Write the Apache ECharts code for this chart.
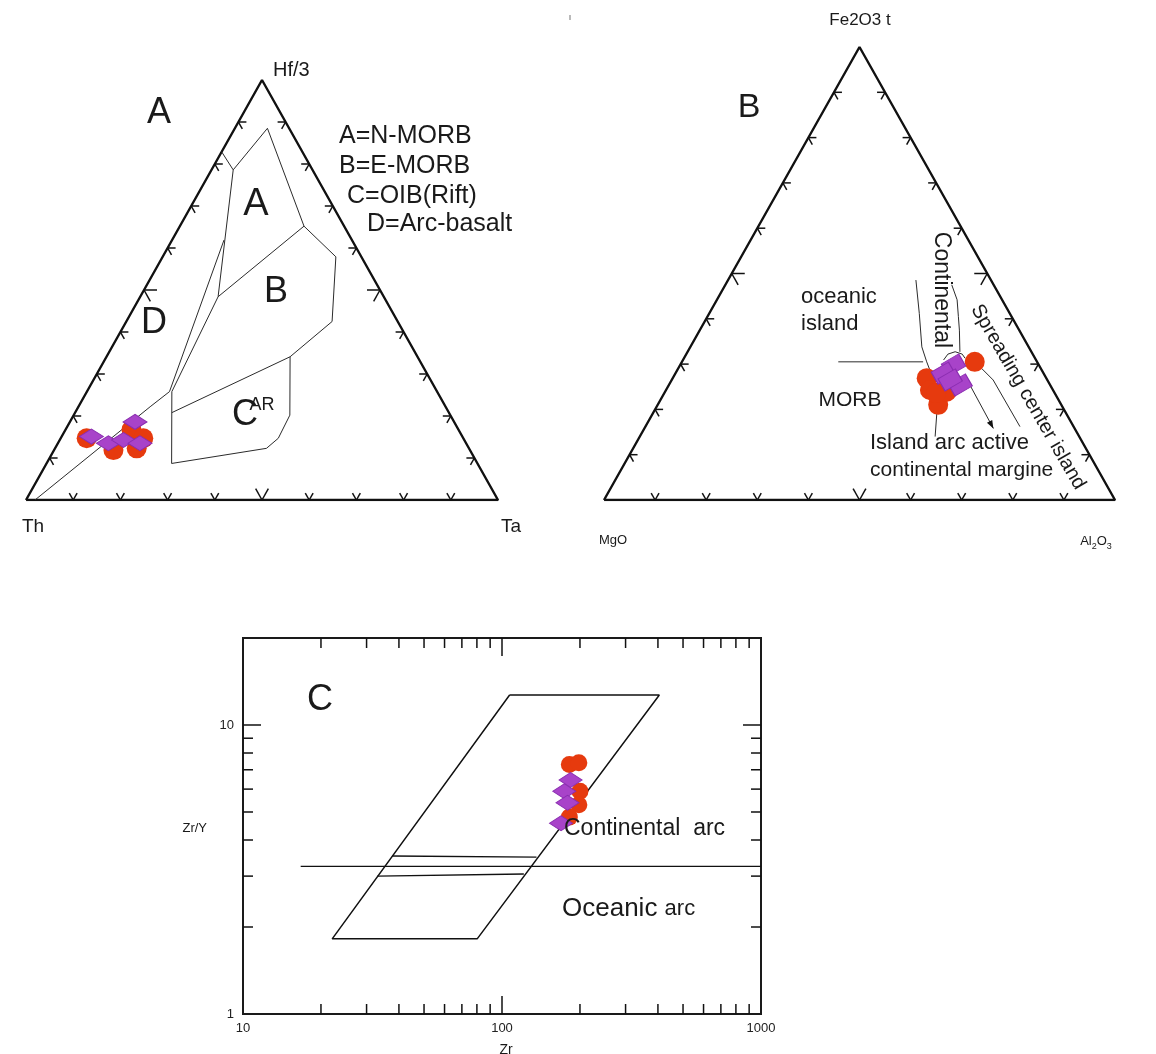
<!DOCTYPE html>
<html>
<head>
<meta charset="utf-8">
<title>Discrimination diagrams</title>
<script src="https://cdn.jsdelivr.net/npm/echarts@6.0.0/dist/echarts.min.js"></script>
<style>
html,body{margin:0;padding:0;background:#fff;}
#chart{width:1156px;height:1054px;}
</style>
</head>
<body>
<div id="chart"></div>
<script>
// ================= DATA =================
// Ternary corners in [left, top, right] order
const triCorners = [[1,0,0],[0,1,0],[0,0,1]];
const ternTicks = [0.1,0.2,0.3,0.4,0.5,0.6,0.7,0.8,0.9];

// ---- Diagram A : Th – Hf/3 – Ta, compositions [Th, Hf/3, Ta]
const aEdgeSeg   = [[0.171,0.829,0.000],[0.168,0.786,0.046]];
const aFieldA    = [[0.168,0.786,0.046],[0.046,0.885,0.069],[0.085,0.652,0.263]];
const aLeftLine  = [[0.168,0.786,0.046],[0.351,0.484,0.165],[0.562,0.258,0.180]];
const aFieldB    = [[0.351,0.484,0.165],[0.085,0.652,0.263],[0.054,0.579,0.367],[0.139,0.425,0.436],[0.270,0.341,0.389]];
const aFieldC    = [[0.562,0.258,0.180],[0.648,0.087,0.265],[0.429,0.123,0.448],[0.392,0.147,0.461],[0.340,0.202,0.458],[0.270,0.341,0.389],[0.587,0.208,0.205]];
const aFieldD    = [[0.271,0.619,0.110],[0.567,0.258,0.175],[0.626,0.222,0.152],[0.981,0.000,0.019]];
const aCircles   = [[0.798,0.147,0.055],[0.756,0.119,0.126],[0.693,0.167,0.140],[0.678,0.147,0.175],[0.704,0.123,0.173]];
const aDiamonds  = [[0.786,0.151,0.063],[0.758,0.135,0.107],[0.676,0.186,0.138],[0.722,0.143,0.135],[0.691,0.135,0.174]];

// ---- Diagram B : MgO – Fe2O3t – Al2O3, compositions [MgO, Fe2O3t, Al2O3]
const bMorbLine  = [[0.389,0.305,0.306],[0.223,0.305,0.472]];
const bContLeft  = [[0.147,0.486,0.368],[0.177,0.412,0.411],[0.209,0.338,0.453],[0.216,0.305,0.479],[0.220,0.280,0.500]];
const bContRight = [[0.082,0.475,0.443],[0.088,0.442,0.470],[0.104,0.405,0.491],[0.117,0.375,0.508],[0.140,0.327,0.533]];
const bContArc   = [[0.181,0.309,0.510],[0.166,0.322,0.512],[0.149,0.327,0.523],[0.138,0.322,0.540],[0.137,0.313,0.550]];
const bSpreading = [[0.116,0.291,0.594],[0.106,0.265,0.629],[0.105,0.162,0.733]];
const bArrow     = [[0.157,0.254,0.589],[0.159,0.158,0.683]];
const bLeader    = [[0.251,0.195,0.554],[0.282,0.140,0.578]];
const bCircles   = [[0.122,0.305,0.573],[0.234,0.269,0.497],[0.241,0.243,0.517],[0.241,0.210,0.549],[0.210,0.239,0.551],[0.232,0.236,0.532]];
const bDiamonds  = [[0.167,0.298,0.535],[0.196,0.280,0.524],[0.176,0.254,0.570],[0.190,0.265,0.545]];

// ---- Diagram C : Zr vs Zr/Y (log–log)
const zrRange    = [10, 1000];
const zryRange   = [1, 20];
const zrMajor    = [100];
const zrMinor    = [20,30,40,50,60,70,80,90,200,300,400,500,600,700,800,900];
const zryMajor   = [10];
const zryMinor   = [2,3,4,5,6,7,8,9];
const cParallelogram = [[107,12.7],[405,12.7],[80.2,1.82],[22.1,1.82],[107,12.7]];
const cDivide    = [[16.7,3.24],[1000,3.24]];
const cUpperBand = [[37.6,3.52],[135.9,3.49]];
const cLowerBand = [[33.0,3.00],[121.4,3.05]];
const cCircleZr  = [182, 198, 200, 198, 182];
const cCircleZrY = [7.3, 7.4, 5.9, 5.3, 4.8];
const cDiamondZr = [184, 174, 179, 169];
const cDiamondZrY= [6.45, 5.9, 5.38, 4.57];

// ================= HELPERS =================
const FONT = '"Liberation Sans", Arial, Helvetica, sans-serif';
const RED = '#E63A0E', PURPLE = '#A843C9', PURPLE_EDGE = '#8A2DB0', INK = '#111';

function toXY(c){ const s = c[0]+c[1]+c[2]; return [(c[2] + c[1]/2)/s, c[1]/s]; }

function tLine(g, pts, w, color){
  return {type:'line', xAxisIndex:g, yAxisIndex:g, data: pts.map(toXY), symbol:'none',
    silent:true, lineStyle:{width:w||1, color:color||'#2b2b2b'}, z:2};
}
function tScatter(g, pts, kind, size, rot){
  return {type:'scatter', xAxisIndex:g, yAxisIndex:g, data: pts.map(toXY), symbol: kind,
    symbolSize: size, symbolRotate: rot||0, silent:true, z: kind==='circle'?5:6,
    itemStyle: kind==='circle' ? {color:RED, opacity:1} : {color:PURPLE, borderColor:PURPLE_EDGE, borderWidth:1, opacity:1}};
}
function tTicks(g){
  const data = [];
  [1,2,3].forEach(e => ternTicks.forEach(t => data.push([e, t])));
  return {type:'custom', xAxisIndex:g, yAxisIndex:g, data, clip:false, silent:true, z:4,
    renderItem(params, api){
      const e = api.value(0), t = api.value(1);
      const L = api.coord(toXY(triCorners[0])), T = api.coord(toXY(triCorners[1])), R = api.coord(toXY(triCorners[2]));
      const edges = {1:[L,R,T], 2:[R,T,L], 3:[T,L,R]};
      const [A,B,C] = edges[e];
      const p = [A[0]+(B[0]-A[0])*t, A[1]+(B[1]-A[1])*t];
      const len = Math.abs(t-0.5) < 1e-6 ? 13 : 8;
      const u = (P,Q) => { const dx=Q[0]-P[0], dy=Q[1]-P[1], d=Math.hypot(dx,dy); return [dx/d, dy/d]; };
      const d1 = u(A,C), d2 = u(B,C);
      const st = {stroke:INK, lineWidth:1.5};
      return {type:'group', children:[
        {type:'line', shape:{x1:p[0], y1:p[1], x2:p[0]+d1[0]*len, y2:p[1]+d1[1]*len}, style:st},
        {type:'line', shape:{x1:p[0], y1:p[1], x2:p[0]+d2[0]*len, y2:p[1]+d2[1]*len}, style:st}
      ]};
    }};
}
function cLine(pts, w){
  return {type:'line', xAxisIndex:2, yAxisIndex:2, data: pts, symbol:'none', silent:true,
    lineStyle:{width:w||1.4, color:INK}, z:2};
}
function cTicks(){
  const data = [];
  zrMajor.concat(zrMinor).forEach(v => { data.push([v,1]); data.push([v,2]); });
  zryMajor.concat(zryMinor).forEach(v => { data.push([v,3]); data.push([v,4]); });
  return {type:'custom', xAxisIndex:2, yAxisIndex:2, data, clip:false, silent:true, z:4,
    renderItem(params, api){
      const v = api.value(0), side = api.value(1);
      const major = (side <= 2 ? zrMajor : zryMajor).indexOf(v) >= 0;
      const len = major ? 18 : 10;
      let p, dx = 0, dy = 0;
      if (side === 1) { p = api.coord([v, zryRange[0]]); dy = -len; }
      else if (side === 2) { p = api.coord([v, zryRange[1]]); dy = len; }
      else if (side === 3) { p = api.coord([zrRange[0], v]); dx = len; }
      else { p = api.coord([zrRange[1], v]); dx = -len; }
      return {type:'line', shape:{x1:p[0], y1:p[1], x2:p[0]+dx, y2:p[1]+dy}, style:{stroke:INK, lineWidth:1.5}};
    }};
}
function arrowHead(g, pts){
  const a = toXY(pts[pts.length-2]), b = toXY(pts[pts.length-1]);
  return {type:'custom', xAxisIndex:g, yAxisIndex:g, data:[[a[0],a[1],b[0],b[1]]], clip:false, silent:true, z:3,
    renderItem(params, api){
      const p0 = api.coord([api.value(0), api.value(1)]), p1 = api.coord([api.value(2), api.value(3)]);
      const dx = p1[0]-p0[0], dy = p1[1]-p0[1], d = Math.hypot(dx,dy), ux = dx/d, uy = dy/d;
      const L = 8, W = 3;
      const pts2 = [[p1[0], p1[1]], [p1[0]-ux*L-uy*W, p1[1]-uy*L+ux*W], [p1[0]-ux*L+uy*W, p1[1]-uy*L-ux*W]];
      return {type:'polygon', shape:{points:pts2}, style:{fill:INK}};
    }};
}
function txt(text, x, y, size, opt){
  opt = opt || {};
  return {type:'text', x, y, rotation: opt.rot || 0, silent:true, z:10,
    style:{text, fontSize:size, fontFamily:FONT, fill:opt.color||'#1a1a1a',
      align: opt.align||'center', verticalAlign:'middle', rich: opt.rich}};
}

// ================= CHART =================
const chart = echarts.init(document.getElementById('chart'), null, {renderer:'canvas'});
const hiddenAxis = g => ({gridIndex:g, type:'value', min:0, max:1, show:false});
const isPow10 = v => Math.abs(Math.log10(v) - Math.round(Math.log10(v))) < 1e-6;

const option = {
  animation:false,
  backgroundColor:'#fff',
  grid:[
    {left:26, top:80, width:472, height:420, containLabel:false, outerBoundsMode:'none'},
    {left:604, top:47, width:511, height:453, containLabel:false, outerBoundsMode:'none'},
    {left:243, top:638, width:518, height:376, containLabel:false, outerBoundsMode:'none',
     show:true, borderColor:'#1a1a1a', borderWidth:2, backgroundColor:'transparent'}
  ],
  xAxis:[hiddenAxis(0), hiddenAxis(1),
    {gridIndex:2, type:'log', logBase:10, min:zrRange[0], max:zrRange[1],
     axisLine:{show:false}, axisTick:{show:false}, splitLine:{show:false}, minorTick:{show:false},
     axisLabel:{fontSize:13, color:'#222', fontFamily:FONT, margin:8,
       formatter: v => isPow10(v) ? String(Math.round(v)) : ''}}],
  yAxis:[hiddenAxis(0), hiddenAxis(1),
    {gridIndex:2, type:'log', logBase:10, min:zryRange[0], max:zryRange[1],
     axisLine:{show:false}, axisTick:{show:false}, splitLine:{show:false}, minorTick:{show:false},
     axisLabel:{fontSize:13, color:'#222', fontFamily:FONT, margin:9,
       formatter: v => isPow10(v) ? String(Math.round(v)) : ''}}],
  series:[
    // Diagram A
    tLine(0, triCorners.concat([triCorners[0]]), 2.4, INK),
    tTicks(0),
    tLine(0, aEdgeSeg), tLine(0, aFieldA), tLine(0, aLeftLine), tLine(0, aFieldB), tLine(0, aFieldC), tLine(0, aFieldD),
    tScatter(0, aCircles, 'circle', 20),
    tScatter(0, aDiamonds, 'diamond', [24,15]),
    // Diagram B
    tLine(1, triCorners.concat([triCorners[0]]), 2.4, INK),
    tTicks(1),
    tLine(1, bMorbLine), tLine(1, bContLeft), tLine(1, bContRight), tLine(1, bContArc),
    tLine(1, bSpreading), tLine(1, bArrow), tLine(1, bLeader),
    arrowHead(1, bArrow),
    tScatter(1, bCircles, 'circle', 20),
    tScatter(1, bDiamonds, 'rect', [20,14], 30),
    // Diagram C
    cLine(cParallelogram, 1.5), cLine(cDivide, 1.2), cLine(cUpperBand, 1.4), cLine(cLowerBand, 1.4),
    cTicks(),
    {type:'scatter', xAxisIndex:2, yAxisIndex:2, symbol:'circle', symbolSize:17, silent:true, z:5,
     data: cCircleZr.map((v,i) => [v, cCircleZrY[i]]), itemStyle:{color:RED, opacity:1}},
    {type:'scatter', xAxisIndex:2, yAxisIndex:2, symbol:'diamond', symbolSize:[23,15], silent:true, z:6,
     data: cDiamondZr.map((v,i) => [v, cDiamondZrY[i]]), itemStyle:{color:PURPLE, borderColor:PURPLE_EDGE, borderWidth:1, opacity:1}}
  ],
  graphic:[
    // Diagram A texts
    txt('A', 159, 113, 36),
    txt('Hf/3', 273, 70, 20, {align:'left'}),
    txt('Th', 33, 527, 19),
    txt('Ta', 511, 527, 19),
    txt('A=N-MORB', 339, 136, 25, {align:'left'}),
    txt('B=E-MORB', 339, 166, 25, {align:'left'}),
    txt('C=OIB(Rift)', 347, 196, 25, {align:'left'}),
    txt('D=Arc-basalt', 367, 224, 25, {align:'left'}),
    txt('A', 256, 205, 38),
    txt('B', 276, 292, 36),
    txt('C', 245, 415, 36),
    txt('AR', 262, 405, 18),
    txt('D', 154, 323, 36),
    // Diagram B texts
    txt('\u0131', 570, 18, 9, {color:'#555'}),
    txt('B', 749, 108, 34),
    txt('Fe2O3 t', 860, 20, 17),
    txt('MgO', 613, 540, 13),
    txt('{n|Al}{s|2}{n|O}{s|3}', 1096, 545, 13, {rich:{
      n:{fontSize:13, fontFamily:FONT, fill:'#1a1a1a', verticalAlign:'bottom', lineHeight:13, padding:[0,0,4,0]},
      s:{fontSize:9, fontFamily:FONT, fill:'#1a1a1a', verticalAlign:'bottom', lineHeight:9}}}),
    txt('oceanic', 801, 297, 22, {align:'left'}),
    txt('island', 801, 324, 22, {align:'left'}),
    txt('MORB', 850, 400, 21),
    txt('Continental', 941, 290, 23, {rot:-Math.PI/2}),
    txt('Spreading center island', 1028, 397, 20, {rot:-Math.PI/3}),
    txt('Island arc active', 870, 443, 22, {align:'left'}),
    txt('continental margine', 870, 470, 21, {align:'left'}),
    // Diagram C texts
    txt('C', 320, 700, 36),
    txt('Continental  arc', 564, 829, 23, {align:'left'}),
    txt('{a|Oceanic} {b|arc}', 562, 909, 26, {align:'left', rich:{
      a:{fontSize:26, fontFamily:FONT, fill:'#1a1a1a'}, b:{fontSize:22, fontFamily:FONT, fill:'#1a1a1a'}}}),
    txt('Zr/Y', 207, 828, 13, {align:'right'}),
    txt('Zr', 506, 1050, 14)
  ]
};
chart.setOption(option);
</script>
</body>
</html>
